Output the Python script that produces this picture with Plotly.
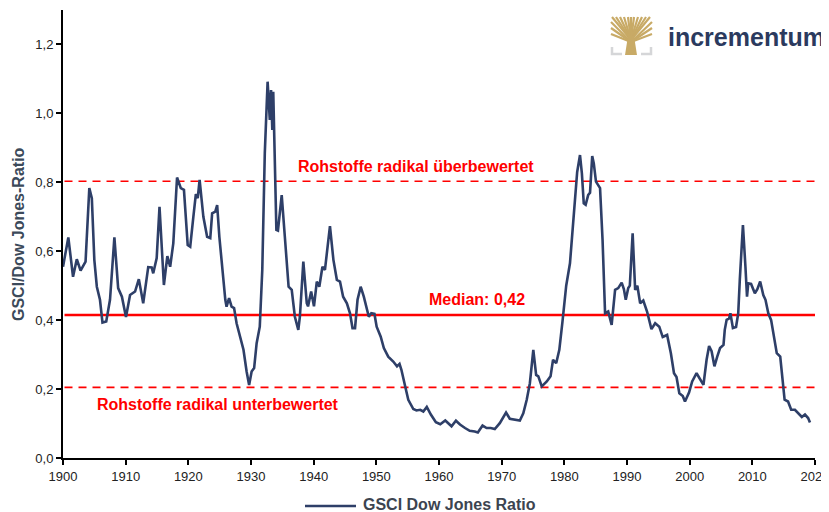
import plotly.graph_objects as go

years = [1900.0,1900.85,1901.6,1902.2,1902.8,1903.6,1904.2,1904.6,1905.0,1905.4,1905.9,1906.3,1906.9,1907.5,1908.2,1908.8,1909.4,1910.05,1910.7,1911.5,1912.1,1912.8,1913.6,1914.15,1914.4,1914.95,1915.4,1916.1,1916.65,1917.1,1917.6,1918.2,1918.8,1919.3,1919.9,1920.3,1920.8,1921.2,1921.5,1921.8,1922.4,1923.0,1923.5,1923.8,1924.3,1924.6,1924.95,1925.4,1925.9,1926.1,1926.5,1926.9,1927.3,1927.7,1928.2,1928.8,1929.3,1929.7,1930.1,1930.5,1930.9,1931.4,1931.8,1932.2,1932.65,1933.0,1933.2,1933.4,1933.55,1933.8,1934.05,1934.3,1934.9,1935.4,1936.0,1936.5,1937.0,1937.55,1937.8,1938.35,1938.9,1939.1,1939.6,1940.05,1940.5,1940.9,1941.4,1941.8,1942.6,1943.15,1943.7,1944.2,1944.7,1945.3,1945.8,1946.2,1946.6,1947.0,1947.5,1948.0,1948.5,1948.8,1949.2,1949.7,1950.05,1950.7,1951.2,1951.9,1952.7,1953.3,1953.7,1954.0,1954.6,1955.1,1955.9,1956.4,1957.0,1957.5,1958.05,1958.7,1959.5,1960.2,1961.0,1961.5,1962.0,1962.7,1963.35,1964.15,1964.9,1965.7,1966.2,1966.95,1967.6,1968.25,1968.9,1969.7,1970.7,1971.3,1972.1,1972.9,1973.45,1974.0,1974.5,1975.05,1975.5,1975.85,1976.4,1977.2,1977.8,1978.2,1978.7,1979.2,1979.7,1980.3,1980.9,1981.4,1981.85,1982.05,1982.5,1982.8,1983.1,1983.4,1983.8,1984.1,1984.45,1984.7,1985.05,1985.7,1986.1,1986.5,1987.0,1987.55,1988.1,1988.6,1989.15,1989.5,1989.8,1990.2,1990.45,1990.9,1991.3,1991.65,1992.1,1992.6,1993.2,1993.9,1994.5,1995.15,1995.7,1996.4,1997.0,1997.5,1997.9,1998.35,1998.9,1999.25,1999.9,2000.4,2001.1,2001.65,2002.2,2002.7,2003.1,2003.5,2003.95,2004.4,2004.85,2005.4,2005.6,2005.9,2006.3,2006.5,2006.9,2007.4,2007.75,2008.0,2008.5,2008.9,2009.15,2009.35,2009.8,2010.4,2010.8,2011.25,2011.75,2012.1,2012.55,2013.0,2013.35,2013.9,2014.45,2014.8,2015.15,2015.7,2016.2,2016.8,2017.4,2017.9,2018.4,2018.9,2019.2]

ratio = [0.555,0.64,0.526,0.577,0.544,0.57,0.783,0.754,0.575,0.497,0.459,0.393,0.396,0.459,0.64,0.493,0.468,0.409,0.473,0.483,0.519,0.449,0.554,0.553,0.536,0.58,0.729,0.502,0.586,0.555,0.623,0.814,0.783,0.778,0.618,0.613,0.70,0.766,0.754,0.807,0.70,0.642,0.638,0.71,0.715,0.734,0.642,0.546,0.459,0.439,0.464,0.439,0.435,0.391,0.352,0.314,0.251,0.212,0.251,0.261,0.333,0.381,0.546,0.884,1.092,0.981,1.068,0.952,1.063,0.807,0.662,0.66,0.763,0.642,0.497,0.488,0.41,0.372,0.41,0.57,0.449,0.44,0.483,0.44,0.512,0.497,0.555,0.546,0.673,0.575,0.517,0.512,0.468,0.449,0.42,0.377,0.377,0.459,0.497,0.468,0.43,0.41,0.42,0.418,0.381,0.352,0.319,0.294,0.28,0.266,0.273,0.256,0.208,0.169,0.142,0.138,0.14,0.135,0.148,0.126,0.104,0.098,0.109,0.101,0.092,0.108,0.097,0.087,0.079,0.077,0.074,0.094,0.087,0.087,0.084,0.101,0.132,0.114,0.111,0.109,0.13,0.169,0.217,0.314,0.241,0.237,0.208,0.222,0.237,0.285,0.275,0.314,0.395,0.5,0.565,0.681,0.807,0.83,0.879,0.826,0.739,0.735,0.763,0.77,0.876,0.855,0.802,0.783,0.633,0.42,0.425,0.386,0.488,0.493,0.509,0.49,0.459,0.493,0.5,0.652,0.488,0.5,0.449,0.457,0.425,0.374,0.391,0.381,0.351,0.357,0.304,0.246,0.235,0.188,0.18,0.164,0.19,0.222,0.246,0.227,0.212,0.285,0.325,0.31,0.266,0.294,0.319,0.328,0.372,0.401,0.405,0.42,0.377,0.38,0.42,0.517,0.676,0.555,0.468,0.507,0.505,0.478,0.49,0.512,0.473,0.459,0.42,0.4,0.362,0.304,0.294,0.237,0.169,0.164,0.14,0.14,0.13,0.119,0.126,0.116,0.103]

median_value = 0.415
upper_level = 0.803
lower_level = 0.205
x_ticks = list(range(1900, 2021, 10))
y_ticks = [0, 0.2, 0.4, 0.6, 0.8, 1.0, 1.2]
series_name = "GSCI Dow Jones Ratio"

NAVY = "#2e3f68"
RED = "#ff0000"
FONT = "Liberation Sans, Arial, sans-serif"

fig = go.Figure()
fig.add_trace(go.Scatter(x=years, y=ratio, mode="lines", name=series_name,
                         line=dict(color=NAVY, width=2.6), showlegend=False))

for lvl, dash, w in [(upper_level, "8px,6px", 1.7), (lower_level, "8px,6px", 1.7), (median_value, "solid", 2.4)]:
    fig.add_shape(type="line", xref="paper", yref="y", x0=0.002, x1=1, y0=lvl, y1=lvl,
                  line=dict(color=RED, width=w, dash=dash), layer="below")

ann_font = dict(family=FONT, size=16, color=RED)
fig.add_annotation(x=1956.4, y=upper_level, yshift=15, text="<b>Rohstoffe radikal überbewertet</b>",
                   showarrow=False, font=ann_font)
fig.add_annotation(x=1966.1, y=median_value, yshift=15, text="<b>Median: 0,42</b>",
                   showarrow=False, font=ann_font)
fig.add_annotation(x=1924.7, y=lower_level, yshift=-17, text="<b>Rohstoffe radikal unterbewertet</b>",
                   showarrow=False, font=ann_font)

# page pixel -> paper helpers (plot area on the page: x 63..815, y 10..458)
def px(xp):
    return (xp - 63) / 752
def py(yp):
    return (458 - yp) / 448

# logo
GOLD = "#c8aa66"
trunk_x = 631
for tx in [612, 616, 620, 624, 628, 631, 634, 638, 642, 646, 650]:
    fig.add_shape(type="line", xref="paper", yref="paper",
                  x0=px(trunk_x), y0=py(40), x1=px(tx), y1=py(17),
                  line=dict(color=GOLD, width=2.2))
for ty in [22, 28, 34]:
    fig.add_shape(type="line", xref="paper", yref="paper",
                  x0=px(trunk_x), y0=py(42), x1=px(611), y1=py(ty), line=dict(color=GOLD, width=2.2))
    fig.add_shape(type="line", xref="paper", yref="paper",
                  x0=px(trunk_x), y0=py(42), x1=px(652), y1=py(ty), line=dict(color=GOLD, width=2.2))
fig.add_shape(type="path", xref="paper", yref="paper",
              path=f"M {px(625)},{py(55)} L {px(628)},{py(36)} L {px(634)},{py(36)} L {px(637)},{py(55)} Z",
              fillcolor=GOLD, line=dict(width=0))
GRAY = "#d5d6d8"
fig.add_shape(type="path", xref="paper", yref="paper",
              path=f"M {px(612)},{py(47)} L {px(612)},{py(54)} L {px(622)},{py(54)}",
              line=dict(color=GRAY, width=2.5))
fig.add_shape(type="path", xref="paper", yref="paper",
              path=f"M {px(651)},{py(47)} L {px(651)},{py(54)} L {px(641)},{py(54)}",
              line=dict(color=GRAY, width=2.5))
fig.add_annotation(xref="paper", yref="paper", x=px(666), y=py(37), xanchor="left", yanchor="middle",
                   text="<b>incrementum</b>", showarrow=False,
                   font=dict(family=FONT, size=25, color="#2b3a5e"))

# y-axis title
fig.add_annotation(xref="paper", yref="paper", x=px(18), y=py(234), xanchor="center", yanchor="middle",
                   text="<b>GSCI/Dow Jones-Ratio</b>", textangle=-90, showarrow=False,
                   font=dict(family=FONT, size=16, color="#3c4a5a"))

# legend
fig.add_shape(type="line", xref="paper", yref="paper", x0=px(305), x1=px(356), y0=py(506), y1=py(506),
              line=dict(color=NAVY, width=2.6))
fig.add_annotation(xref="paper", yref="paper", x=px(361), y=py(505), xanchor="left", yanchor="middle",
                   text=f"<b>{series_name}</b>", showarrow=False,
                   font=dict(family=FONT, size=16, color="#3c4450"))

# the page has an 8px body margin, so the figure is 821x504 placed at (8, 8)
fig.update_layout(
    width=821, height=504,
    margin=dict(l=55, r=14, t=2, b=54, autoexpand=False),
    paper_bgcolor="white", plot_bgcolor="white",
    separators=",.",
    font=dict(family=FONT, size=13, color="#222222"),
    showlegend=False,
    xaxis=dict(range=[1900, 2020], tickvals=x_ticks, showgrid=False, zeroline=False,
               showline=True, linecolor="black", linewidth=2, ticks="outside", ticklen=5,
               tickcolor="black", tickwidth=1.5, tickfont=dict(size=13, color="#222"),
               ticklabeloverflow="allow"),
    yaxis=dict(range=[0, 1.3], tickvals=y_ticks, tickformat=".1f", showgrid=False, zeroline=False,
               showline=True, linecolor="black", linewidth=2, ticks="outside", ticklen=5,
               tickcolor="black", tickwidth=1.5, tickfont=dict(size=13, color="#222")),
)

fig.write_html("out.html")
